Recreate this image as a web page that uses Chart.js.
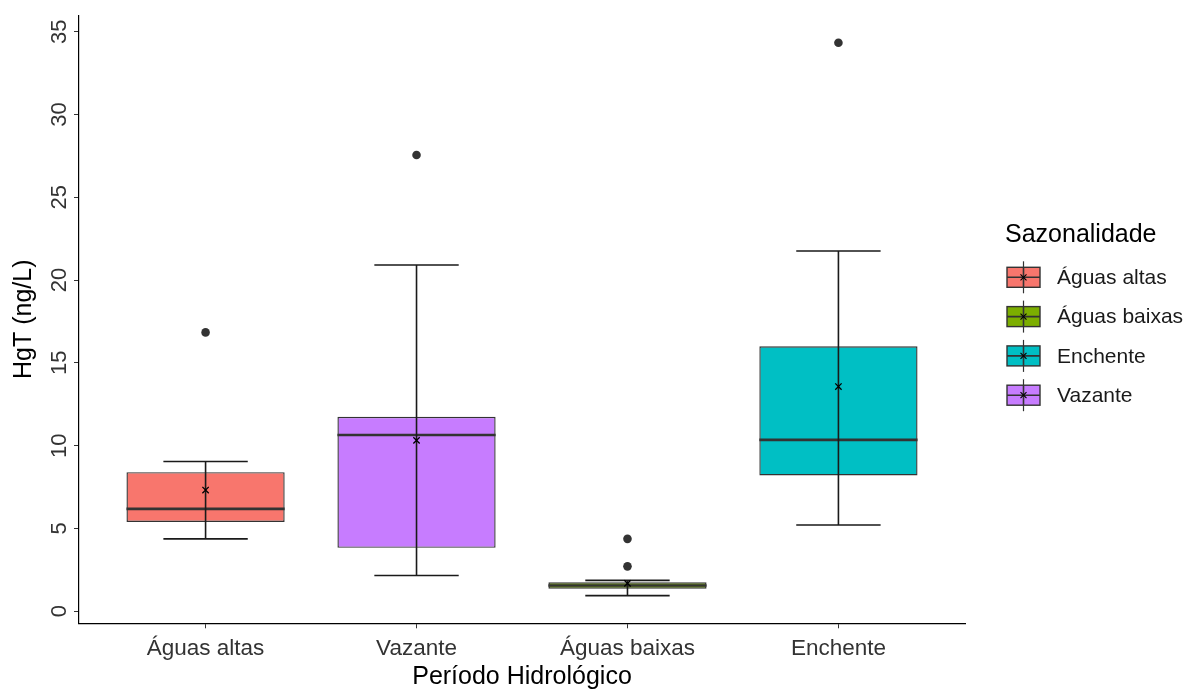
<!DOCTYPE html>
<html>
<head>
<meta charset="utf-8">
<script src="https://cdn.jsdelivr.net/npm/chart.js@4"></script>
<style>
  html, body { margin: 0; padding: 0; background: #fff; }
  #wrap { width: 1184px; height: 690px; position: relative; }
</style>
</head>
<body>
<div id="wrap"><canvas id="c" width="1184" height="690"></canvas></div>
<script>
// Periods on the x axis, in plotting order
const categories = ['Águas altas', 'Vazante', 'Águas baixas', 'Enchente'];
// Box statistics per period (HgT, ng/L)
const whiskerLow  = [4.37, 2.16, 0.94, 5.21];
const q1          = [5.39, 3.83, 1.36, 8.20];
const median      = [6.18, 10.64, 1.55, 10.35];
const q3          = [8.40, 11.74, 1.75, 16.00];
const whiskerHigh = [9.04, 20.91, 1.86, 21.76];
const means       = [7.32, 10.32, 1.68, 13.57];
// Outliers: period index and value
const outlierCat = [0, 1, 2, 2, 3];
const outlierVal = [16.84, 27.56, 4.37, 2.71, 34.34];
// Y tick values
const yTicks = [0, 5, 10, 15, 20, 25, 30, 35];
// Legend (alphabetical, like the fill scale)
const legendLabels = ['Águas altas', 'Águas baixas', 'Enchente', 'Vazante'];

const fillOf = {
  'Águas altas': '#F8766D',
  'Águas baixas': '#7CAE00',
  'Enchente': '#00BFC4',
  'Vazante': '#C77CFF'
};
const FONT = "'Liberation Sans', Arial, sans-serif";
const ERR_HALF = 0.2;   // half width of the error-bar caps, in category units

// Median bar and error bar for each box, drawn right after the boxes
const boxExtras = {
  id: 'boxExtras',
  afterDatasetDraw(chart, args) {
    if (args.index !== 0) return;
    const ctx = chart.ctx;
    const xs = chart.scales.x, ys = chart.scales.y;
    const meta = chart.getDatasetMeta(0);
    ctx.save();
    categories.forEach((c, i) => {
      const bar = meta.data[i];
      const half = bar.width / 2;
      const cx = xs.getPixelForValue(i);
      // median
      ctx.strokeStyle = '#333333';
      ctx.lineWidth = 2.6;
      ctx.beginPath();
      const my = ys.getPixelForValue(median[i]);
      ctx.moveTo(cx - half, my); ctx.lineTo(cx + half, my);
      ctx.stroke();
      // error bar
      ctx.strokeStyle = '#1a1a1a';
      ctx.lineWidth = 1.6;
      const lo = ys.getPixelForValue(whiskerLow[i]);
      const hi = ys.getPixelForValue(whiskerHigh[i]);
      const cl = xs.getPixelForValue(i - ERR_HALF);
      const cr = xs.getPixelForValue(i + ERR_HALF);
      ctx.beginPath();
      ctx.moveTo(cx, lo); ctx.lineTo(cx, hi);
      ctx.moveTo(cl, lo); ctx.lineTo(cr, lo);
      ctx.moveTo(cl, hi); ctx.lineTo(cr, hi);
      ctx.stroke();
    });
    ctx.restore();
  }
};

// Legend on the right
const sideLegend = {
  id: 'sideLegend',
  afterDraw(chart) {
    const ctx = chart.ctx;
    ctx.save();
    ctx.fillStyle = '#000';
    ctx.font = '25px ' + FONT;
    ctx.textAlign = 'left';
    ctx.textBaseline = 'middle';
    ctx.fillText('Sazonalidade', 1005, 235);
    const x0 = 1007, w = 33, h = 20;
    legendLabels.forEach((lab, k) => {
      const cy = 277.3 + k * 39.3;
      const cx = x0 + w / 2;
      ctx.strokeStyle = '#333333';
      ctx.lineWidth = 1.2;
      ctx.beginPath();
      ctx.moveTo(cx, cy - 16); ctx.lineTo(cx, cy + 16);
      ctx.stroke();
      ctx.fillStyle = fillOf[lab];
      ctx.fillRect(x0, cy - h / 2, w, h);
      ctx.lineWidth = 1.4;
      ctx.strokeRect(x0, cy - h / 2, w, h);
      ctx.lineWidth = 1.6;
      ctx.beginPath();
      ctx.moveTo(x0, cy); ctx.lineTo(x0 + w, cy);
      ctx.moveTo(cx, cy - h / 2); ctx.lineTo(cx, cy + h / 2);
      ctx.stroke();
      ctx.strokeStyle = '#000';
      ctx.lineWidth = 1.1;
      ctx.beginPath();
      ctx.moveTo(cx - 3, cy - 3); ctx.lineTo(cx + 3, cy + 3);
      ctx.moveTo(cx - 3, cy + 3); ctx.lineTo(cx + 3, cy - 3);
      ctx.stroke();
      ctx.fillStyle = '#1a1a1a';
      ctx.font = '21px ' + FONT;
      ctx.fillText(lab, 1057, cy + 1);
    });
    ctx.restore();
  }
};

const boxData = categories.map((c, i) => ({ x: i, y: [q1[i], q3[i]] }));
const meanData = categories.map((c, i) => ({ x: i, y: means[i] }));
const outlierData = outlierCat.map((ci, k) => ({ x: ci, y: outlierVal[k] }));

new Chart(document.getElementById('c'), {
  type: 'bar',
  data: {
    datasets: [
      {
        type: 'bar',
        label: 'box',
        data: boxData,
        backgroundColor: categories.map(c => fillOf[c]),
        borderColor: '#333333',
        borderWidth: 1.4,
        borderSkipped: false,
        barPercentage: 0.75,
        categoryPercentage: 1.0,
        order: 3
      },
      {
        type: 'scatter',
        label: 'mean',
        data: meanData,
        pointStyle: 'crossRot',
        radius: 4.5,
        borderColor: '#000',
        borderWidth: 1.3,
        order: 1
      },
      {
        type: 'scatter',
        label: 'outliers',
        data: outlierData,
        pointStyle: 'circle',
        radius: 4.3,
        backgroundColor: '#333333',
        borderColor: '#333333',
        borderWidth: 0,
        order: 0
      }
    ]
  },
  plugins: [boxExtras, sideLegend],
  options: {
    responsive: false,
    animation: false,
    events: [],
    layout: { padding: { left: 0, top: 12.1, right: 219, bottom: 0 } },
    plugins: { legend: { display: false }, tooltip: { enabled: false } },
    scales: {
      x: {
        type: 'linear',
        min: -0.6,
        max: 3.6,
        offset: false,
        afterFit(s) { s.height = 66.7; },
        afterBuildTicks(s) { s.ticks = categories.map((c, i) => ({ value: i })); },
        ticks: {
          callback: (v) => categories[v],
          font: { family: FONT, size: 22.5 },
          color: '#333333',
          padding: 7,
          maxRotation: 0,
          autoSkip: false
        },
        grid: { display: true, offset: false, drawOnChartArea: false, drawTicks: true, tickLength: 5, color: '#333333' },
        border: { display: true, color: '#000', width: 1.2 },
        title: {
          display: true,
          text: 'Período Hidrológico',
          font: { family: FONT, size: 25, lineHeight: 1 },
          color: '#000',
          padding: 0
        }
      },
      y: {
        type: 'linear',
        min: -0.73,
        max: 36.0,
        afterFit(s) { s.width = 79; },
        afterBuildTicks(s) { s.ticks = yTicks.map(v => ({ value: v })); },
        ticks: {
          font: { family: FONT, size: 22 },
          color: '#333333',
          minRotation: 90,
          maxRotation: 90,
          crossAlign: 'center',
          padding: 2
        },
        grid: { display: true, offset: false, drawOnChartArea: false, drawTicks: true, tickLength: 5, color: '#333333' },
        border: { display: true, color: '#000', width: 1.2 },
        title: {
          display: true,
          text: 'HgT (ng/L)',
          font: { family: FONT, size: 25, lineHeight: 1 },
          color: '#000',
          padding: { top: 12, bottom: 0 }
        }
      }
    }
  }
});
</script>
</body>
</html>
